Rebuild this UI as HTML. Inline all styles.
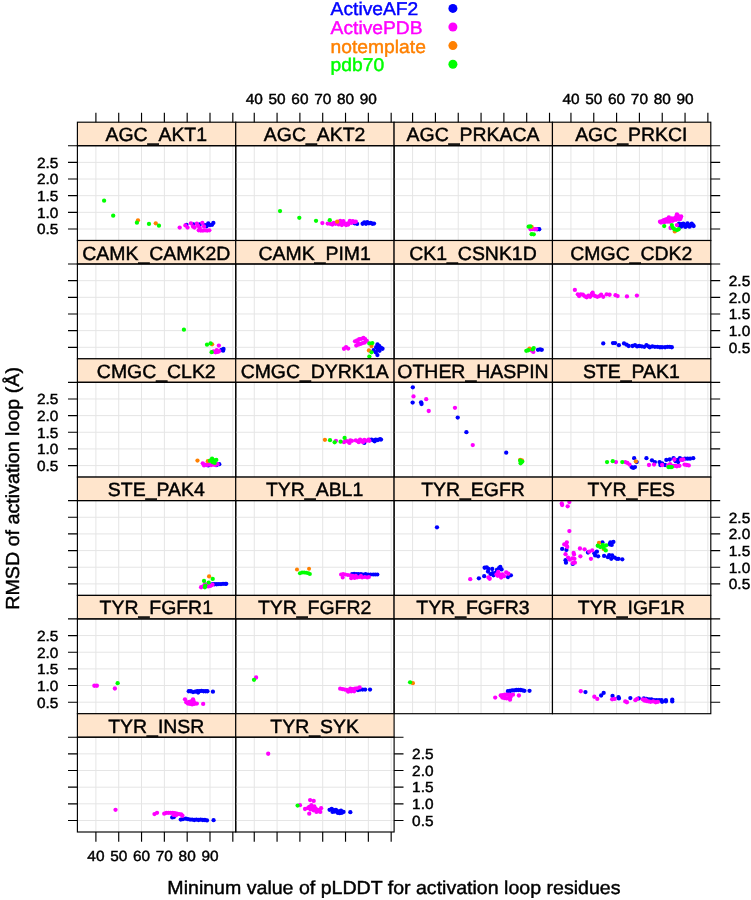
<!DOCTYPE html>
<html lang="en"><head><meta charset="utf-8"><title>RMSD of activation loop vs pLDDT</title>
<style>html,body{margin:0;padding:0;background:#fff}svg{display:block}text{font-family:"Liberation Sans", Arial, Helvetica, sans-serif;fill:#000;stroke:#000;stroke-width:0.45px;text-rendering:geometricPrecision}</style></head><body>
<svg width="751" height="900" viewBox="0 0 751 900">
<rect width="751" height="900" fill="#fff"/>
<g>
<rect x="77.4" y="122.2" width="158.35" height="23.5" fill="#ffe5cc"/>
<path d="M95.9 145.7V240.5M118.72 145.7V240.5M141.54 145.7V240.5M164.36 145.7V240.5M187.18 145.7V240.5M210 145.7V240.5M232.82 145.7V240.5M77.4 229H235.75M77.4 212.34H235.75M77.4 195.68H235.75M77.4 179.02H235.75M77.4 162.36H235.75" stroke="#e5e5e5" stroke-width="1" fill="none"/>
<g fill="#0000ff"><circle cx="186.46" cy="224.82" r="2.15"/><circle cx="193.44" cy="224.39" r="2.15"/><circle cx="199.8" cy="224.39" r="2.15"/><circle cx="205.09" cy="225.03" r="2.15"/><circle cx="206.57" cy="226.3" r="2.15"/><circle cx="208.26" cy="223.34" r="2.15"/><circle cx="209.96" cy="225.03" r="2.15"/><circle cx="212.08" cy="224.82" r="2.15"/><circle cx="213.35" cy="222.91" r="2.15"/></g>
<g fill="#ff00ff"><circle cx="179.68" cy="227.57" r="2.15"/><circle cx="185.4" cy="225.45" r="2.15"/><circle cx="187.52" cy="227.57" r="2.15"/><circle cx="190.9" cy="223.34" r="2.15"/><circle cx="193.02" cy="226.51" r="2.15"/><circle cx="194.5" cy="227.57" r="2.15"/><circle cx="196.83" cy="223.76" r="2.15"/><circle cx="198.1" cy="225.88" r="2.15"/><circle cx="199.8" cy="227.99" r="2.15"/><circle cx="202.34" cy="222.91" r="2.15"/><circle cx="198.74" cy="230.32" r="2.15"/><circle cx="200.85" cy="230.53" r="2.15"/><circle cx="202.97" cy="230.53" r="2.15"/><circle cx="205.09" cy="230.32" r="2.15"/><circle cx="207.21" cy="230.53" r="2.15"/><circle cx="209.32" cy="230.32" r="2.15"/><circle cx="204.03" cy="226.51" r="2.15"/></g>
<g fill="#ff8000"><circle cx="137.97" cy="220.37" r="2.15"/><circle cx="155.76" cy="223.34" r="2.15"/></g>
<g fill="#00ff00"><circle cx="104.1" cy="200.68" r="2.15"/><circle cx="113.2" cy="215.71" r="2.15"/><circle cx="136.92" cy="222.7" r="2.15"/><circle cx="148.98" cy="223.97" r="2.15"/><circle cx="158.93" cy="225.66" r="2.15"/></g>
<rect x="77.4" y="122.2" width="158.35" height="23.5" fill="none" stroke="#000" stroke-width="1.15"/>
<rect x="77.4" y="145.7" width="158.35" height="94.8" fill="none" stroke="#000" stroke-width="1.15"/>
<text transform="translate(156.27 141.25) scale(1 0.985)" font-size="19.45" text-anchor="middle">AGC_AKT1</text>
</g>
<g>
<rect x="235.75" y="122.2" width="158.35" height="23.5" fill="#ffe5cc"/>
<path d="M254.25 145.7V240.5M277.07 145.7V240.5M299.89 145.7V240.5M322.71 145.7V240.5M345.53 145.7V240.5M368.35 145.7V240.5M391.17 145.7V240.5M235.75 229H394.1M235.75 212.34H394.1M235.75 195.68H394.1M235.75 179.02H394.1M235.75 162.36H394.1" stroke="#e5e5e5" stroke-width="1" fill="none"/>
<g fill="#0000ff"><circle cx="354.56" cy="223.34" r="2.15"/><circle cx="357.1" cy="223.97" r="2.15"/><circle cx="362.61" cy="223.76" r="2.15"/><circle cx="364.3" cy="222.49" r="2.15"/><circle cx="365.99" cy="223.76" r="2.15"/><circle cx="367.26" cy="222.07" r="2.15"/><circle cx="368.96" cy="223.34" r="2.15"/><circle cx="370.65" cy="222.91" r="2.15"/><circle cx="372.35" cy="223.76" r="2.15"/><circle cx="374.04" cy="223.55" r="2.15"/></g>
<g fill="#ff00ff"><circle cx="322.38" cy="223.12" r="2.15"/><circle cx="327.67" cy="223.55" r="2.15"/><circle cx="330.21" cy="223.76" r="2.15"/><circle cx="332.33" cy="224.61" r="2.15"/><circle cx="333.81" cy="222.91" r="2.15"/><circle cx="335.51" cy="223.76" r="2.15"/><circle cx="338.68" cy="224.39" r="2.15"/><circle cx="340.17" cy="220.79" r="2.15"/><circle cx="341.86" cy="225.03" r="2.15"/><circle cx="343.34" cy="221.22" r="2.15"/><circle cx="344.4" cy="223.76" r="2.15"/><circle cx="346.09" cy="225.03" r="2.15"/><circle cx="347.79" cy="223.34" r="2.15"/><circle cx="349.9" cy="220.79" r="2.15"/><circle cx="351.39" cy="222.91" r="2.15"/><circle cx="352.87" cy="221.22" r="2.15"/><circle cx="354.56" cy="222.07" r="2.15"/><circle cx="355.83" cy="221.64" r="2.15"/><circle cx="341.22" cy="222.91" r="2.15"/><circle cx="348.21" cy="224.61" r="2.15"/></g>
<g fill="#ff8000"><circle cx="337.2" cy="221.64" r="2.15"/></g>
<g fill="#00ff00"><circle cx="280.04" cy="211.06" r="2.15"/><circle cx="299.3" cy="217.83" r="2.15"/><circle cx="316.03" cy="220.79" r="2.15"/><circle cx="329.79" cy="220.16" r="2.15"/></g>
<rect x="235.75" y="122.2" width="158.35" height="23.5" fill="none" stroke="#000" stroke-width="1.15"/>
<rect x="235.75" y="145.7" width="158.35" height="94.8" fill="none" stroke="#000" stroke-width="1.15"/>
<text transform="translate(314.62 141.25) scale(1 0.985)" font-size="19.45" text-anchor="middle">AGC_AKT2</text>
</g>
<g>
<rect x="394.1" y="122.2" width="158.35" height="23.5" fill="#ffe5cc"/>
<path d="M412.6 145.7V240.5M435.42 145.7V240.5M458.24 145.7V240.5M481.06 145.7V240.5M503.88 145.7V240.5M526.7 145.7V240.5M549.52 145.7V240.5M394.1 229H552.45M394.1 212.34H552.45M394.1 195.68H552.45M394.1 179.02H552.45M394.1 162.36H552.45" stroke="#e5e5e5" stroke-width="1" fill="none"/>
<g fill="#0000ff"><circle cx="537.12" cy="229.26" r="2.15"/><circle cx="539.24" cy="229.26" r="2.15"/></g>
<g fill="#ff00ff"><circle cx="530.56" cy="229.26" r="2.15"/><circle cx="532.68" cy="229.05" r="2.15"/><circle cx="534.79" cy="229.26" r="2.15"/><circle cx="536.27" cy="229.05" r="2.15"/></g>
<g fill="#ff8000"><circle cx="531.62" cy="226.93" r="2.15"/></g>
<g fill="#00ff00"><circle cx="528.65" cy="226.72" r="2.15"/><circle cx="530.35" cy="226.3" r="2.15"/><circle cx="531.62" cy="234.13" r="2.15"/><circle cx="533.73" cy="234.34" r="2.15"/></g>
<rect x="394.1" y="122.2" width="158.35" height="23.5" fill="none" stroke="#000" stroke-width="1.15"/>
<rect x="394.1" y="145.7" width="158.35" height="94.8" fill="none" stroke="#000" stroke-width="1.15"/>
<text transform="translate(472.98 141.25) scale(1 0.985)" font-size="19.45" text-anchor="middle">AGC_PRKACA</text>
</g>
<g>
<rect x="552.45" y="122.2" width="158.35" height="23.5" fill="#ffe5cc"/>
<path d="M570.95 145.7V240.5M593.77 145.7V240.5M616.59 145.7V240.5M639.41 145.7V240.5M662.23 145.7V240.5M685.05 145.7V240.5M707.87 145.7V240.5M552.45 229H710.8M552.45 212.34H710.8M552.45 195.68H710.8M552.45 179.02H710.8M552.45 162.36H710.8" stroke="#e5e5e5" stroke-width="1" fill="none"/>
<g fill="#0000ff"><circle cx="678.61" cy="225.03" r="2.15"/><circle cx="680.72" cy="225.45" r="2.15"/><circle cx="682.84" cy="225.03" r="2.15"/><circle cx="684.96" cy="225.88" r="2.15"/><circle cx="687.08" cy="225.03" r="2.15"/><circle cx="689.19" cy="225.45" r="2.15"/><circle cx="691.31" cy="225.03" r="2.15"/><circle cx="693" cy="225.03" r="2.15"/><circle cx="681.57" cy="224.18" r="2.15"/><circle cx="687.5" cy="224.18" r="2.15"/><circle cx="679.03" cy="223.76" r="2.15"/><circle cx="681.15" cy="226.72" r="2.15"/><circle cx="683.26" cy="223.55" r="2.15"/><circle cx="685.38" cy="226.93" r="2.15"/><circle cx="687.5" cy="223.34" r="2.15"/><circle cx="689.62" cy="226.72" r="2.15"/><circle cx="691.73" cy="223.76" r="2.15"/><circle cx="693.64" cy="226.09" r="2.15"/><circle cx="684.32" cy="224.61" r="2.15"/><circle cx="688.56" cy="226.09" r="2.15"/></g>
<g fill="#ff00ff"><circle cx="659.98" cy="221.64" r="2.15"/><circle cx="662.09" cy="221.22" r="2.15"/><circle cx="663.79" cy="220.16" r="2.15"/><circle cx="665.9" cy="219.52" r="2.15"/><circle cx="668.02" cy="218.68" r="2.15"/><circle cx="668.87" cy="217.41" r="2.15"/><circle cx="670.56" cy="220.16" r="2.15"/><circle cx="672.68" cy="219.1" r="2.15"/><circle cx="674.8" cy="218.04" r="2.15"/><circle cx="676.91" cy="214.44" r="2.15"/><circle cx="678.61" cy="216.56" r="2.15"/><circle cx="680.72" cy="217.41" r="2.15"/><circle cx="679.03" cy="219.1" r="2.15"/><circle cx="667.39" cy="221.64" r="2.15"/><circle cx="670.56" cy="227.99" r="2.15"/><circle cx="676.91" cy="225.03" r="2.15"/><circle cx="664.63" cy="222.07" r="2.15"/><circle cx="661.03" cy="222.49" r="2.15"/><circle cx="663.15" cy="221.85" r="2.15"/><circle cx="665.48" cy="221.01" r="2.15"/><circle cx="669.72" cy="219.31" r="2.15"/><circle cx="671.83" cy="218.47" r="2.15"/><circle cx="673.95" cy="219.74" r="2.15"/><circle cx="676.07" cy="216.98" r="2.15"/><circle cx="678.18" cy="218.25" r="2.15"/><circle cx="680.3" cy="219.1" r="2.15"/><circle cx="681.15" cy="216.35" r="2.15"/><circle cx="677.76" cy="215.5" r="2.15"/><circle cx="676.07" cy="219.74" r="2.15"/><circle cx="672.68" cy="220.79" r="2.15"/><circle cx="669.72" cy="221.64" r="2.15"/></g>
<g fill="#ff8000"><circle cx="674.8" cy="231.38" r="2.15"/></g>
<g fill="#00ff00"><circle cx="664.21" cy="226.09" r="2.15"/><circle cx="671.83" cy="225.03" r="2.15"/><circle cx="672.68" cy="227.57" r="2.15"/><circle cx="674.37" cy="229.26" r="2.15"/><circle cx="676.91" cy="230.11" r="2.15"/><circle cx="678.61" cy="229.26" r="2.15"/></g>
<rect x="552.45" y="122.2" width="158.35" height="23.5" fill="none" stroke="#000" stroke-width="1.15"/>
<rect x="552.45" y="145.7" width="158.35" height="94.8" fill="none" stroke="#000" stroke-width="1.15"/>
<text transform="translate(631.32 141.25) scale(1 0.985)" font-size="19.45" text-anchor="middle">AGC_PRKCI</text>
</g>
<g>
<rect x="77.4" y="240.5" width="158.35" height="23.5" fill="#ffe5cc"/>
<path d="M95.9 264V358.8M118.72 264V358.8M141.54 264V358.8M164.36 264V358.8M187.18 264V358.8M210 264V358.8M232.82 264V358.8M77.4 347.3H235.75M77.4 330.64H235.75M77.4 313.98H235.75M77.4 297.32H235.75M77.4 280.66H235.75" stroke="#e5e5e5" stroke-width="1" fill="none"/>
<g fill="#0000ff"><circle cx="221.39" cy="349.8" r="2.15"/><circle cx="223.51" cy="348.96" r="2.15"/><circle cx="223.09" cy="350.65" r="2.15"/></g>
<g fill="#ff00ff"><circle cx="218.85" cy="345.57" r="2.15"/><circle cx="213.56" cy="351.5" r="2.15"/><circle cx="215.68" cy="352.34" r="2.15"/><circle cx="217.79" cy="351.92" r="2.15"/><circle cx="219.27" cy="351.07" r="2.15"/><circle cx="216.73" cy="350.23" r="2.15"/></g>
<g fill="#ff8000"><circle cx="212.08" cy="344.3" r="2.15"/></g>
<g fill="#00ff00"><circle cx="183.92" cy="329.69" r="2.15"/><circle cx="206.99" cy="344.72" r="2.15"/><circle cx="210.59" cy="343.45" r="2.15"/><circle cx="211.65" cy="352.13" r="2.15"/></g>
<rect x="77.4" y="240.5" width="158.35" height="23.5" fill="none" stroke="#000" stroke-width="1.15"/>
<rect x="77.4" y="264" width="158.35" height="94.8" fill="none" stroke="#000" stroke-width="1.15"/>
<text transform="translate(156.27 259.55) scale(1 0.985)" font-size="19.45" text-anchor="middle">CAMK_CAMK2D</text>
</g>
<g>
<rect x="235.75" y="240.5" width="158.35" height="23.5" fill="#ffe5cc"/>
<path d="M254.25 264V358.8M277.07 264V358.8M299.89 264V358.8M322.71 264V358.8M345.53 264V358.8M368.35 264V358.8M391.17 264V358.8M235.75 347.3H394.1M235.75 330.64H394.1M235.75 313.98H394.1M235.75 297.32H394.1M235.75 280.66H394.1" stroke="#e5e5e5" stroke-width="1" fill="none"/>
<g fill="#0000ff"><circle cx="377.43" cy="344.51" r="2.15"/><circle cx="379.12" cy="345.99" r="2.15"/><circle cx="380.81" cy="347.69" r="2.15"/><circle cx="382.51" cy="348.75" r="2.15"/><circle cx="376.16" cy="347.26" r="2.15"/><circle cx="377.85" cy="349.8" r="2.15"/><circle cx="379.54" cy="350.86" r="2.15"/><circle cx="375.73" cy="352.34" r="2.15"/><circle cx="377.43" cy="355.1" r="2.15"/><circle cx="373.62" cy="350.23" r="2.15"/><circle cx="378.27" cy="348.11" r="2.15"/></g>
<g fill="#ff00ff"><circle cx="343.98" cy="348.75" r="2.15"/><circle cx="346.09" cy="347.26" r="2.15"/><circle cx="348.21" cy="348.53" r="2.15"/><circle cx="354.99" cy="341.34" r="2.15"/><circle cx="357.1" cy="340.28" r="2.15"/><circle cx="359.22" cy="339.22" r="2.15"/><circle cx="361.34" cy="338.79" r="2.15"/><circle cx="363.45" cy="337.95" r="2.15"/><circle cx="365.15" cy="339.22" r="2.15"/><circle cx="366.84" cy="340.91" r="2.15"/><circle cx="364.72" cy="342.61" r="2.15"/><circle cx="362.61" cy="343.03" r="2.15"/><circle cx="360.49" cy="343.88" r="2.15"/><circle cx="358.37" cy="344.72" r="2.15"/><circle cx="356.26" cy="345.57" r="2.15"/><circle cx="357.74" cy="342.18" r="2.15"/></g>
<g fill="#ff8000"><circle cx="371.5" cy="345.99" r="2.15"/><circle cx="368.96" cy="350.44" r="2.15"/></g>
<g fill="#00ff00"><circle cx="369.38" cy="343.45" r="2.15"/><circle cx="372.35" cy="343.03" r="2.15"/><circle cx="371.5" cy="352.34" r="2.15"/><circle cx="369.38" cy="356.58" r="2.15"/></g>
<rect x="235.75" y="240.5" width="158.35" height="23.5" fill="none" stroke="#000" stroke-width="1.15"/>
<rect x="235.75" y="264" width="158.35" height="94.8" fill="none" stroke="#000" stroke-width="1.15"/>
<text transform="translate(314.62 259.55) scale(1 0.985)" font-size="19.45" text-anchor="middle">CAMK_PIM1</text>
</g>
<g>
<rect x="394.1" y="240.5" width="158.35" height="23.5" fill="#ffe5cc"/>
<path d="M412.6 264V358.8M435.42 264V358.8M458.24 264V358.8M481.06 264V358.8M503.88 264V358.8M526.7 264V358.8M549.52 264V358.8M394.1 347.3H552.45M394.1 330.64H552.45M394.1 313.98H552.45M394.1 297.32H552.45M394.1 280.66H552.45" stroke="#e5e5e5" stroke-width="1" fill="none"/>
<g fill="#0000ff"><circle cx="537.97" cy="349.8" r="2.15"/><circle cx="540.09" cy="349.38" r="2.15"/><circle cx="541.78" cy="349.8" r="2.15"/></g>
<g fill="#ff00ff"><circle cx="533.31" cy="351.92" r="2.15"/><circle cx="531.19" cy="350.23" r="2.15"/></g>
<g fill="#ff8000"><circle cx="529.5" cy="348.75" r="2.15"/></g>
<g fill="#00ff00"><circle cx="526.32" cy="350.86" r="2.15"/><circle cx="528.23" cy="350.23" r="2.15"/><circle cx="533.73" cy="348.11" r="2.15"/><circle cx="532.68" cy="349.38" r="2.15"/></g>
<rect x="394.1" y="240.5" width="158.35" height="23.5" fill="none" stroke="#000" stroke-width="1.15"/>
<rect x="394.1" y="264" width="158.35" height="94.8" fill="none" stroke="#000" stroke-width="1.15"/>
<text transform="translate(472.98 259.55) scale(1 0.985)" font-size="19.45" text-anchor="middle">CK1_CSNK1D</text>
</g>
<g>
<rect x="552.45" y="240.5" width="158.35" height="23.5" fill="#ffe5cc"/>
<path d="M570.95 264V358.8M593.77 264V358.8M616.59 264V358.8M639.41 264V358.8M662.23 264V358.8M685.05 264V358.8M707.87 264V358.8M552.45 347.3H710.8M552.45 330.64H710.8M552.45 313.98H710.8M552.45 297.32H710.8M552.45 280.66H710.8" stroke="#e5e5e5" stroke-width="1" fill="none"/>
<g fill="#0000ff"><circle cx="603.24" cy="343.45" r="2.15"/><circle cx="612.97" cy="343.03" r="2.15"/><circle cx="615.09" cy="343.03" r="2.15"/><circle cx="618.9" cy="345.15" r="2.15"/><circle cx="623.98" cy="343.45" r="2.15"/><circle cx="626.52" cy="344.72" r="2.15"/><circle cx="628.64" cy="345.99" r="2.15"/><circle cx="632.45" cy="345.99" r="2.15"/><circle cx="634.99" cy="345.15" r="2.15"/><circle cx="637.11" cy="346.42" r="2.15"/><circle cx="639.23" cy="345.99" r="2.15"/><circle cx="641.77" cy="346.42" r="2.15"/><circle cx="644.31" cy="346.84" r="2.15"/><circle cx="646.43" cy="345.15" r="2.15"/><circle cx="648.54" cy="346.42" r="2.15"/><circle cx="649.81" cy="347.26" r="2.15"/><circle cx="652.35" cy="346.42" r="2.15"/><circle cx="654.89" cy="346.84" r="2.15"/><circle cx="657.44" cy="346.84" r="2.15"/><circle cx="659.98" cy="347.26" r="2.15"/><circle cx="662.09" cy="347.26" r="2.15"/><circle cx="665.06" cy="347.26" r="2.15"/><circle cx="667.6" cy="346.84" r="2.15"/><circle cx="669.72" cy="346.84" r="2.15"/><circle cx="671.83" cy="347.26" r="2.15"/></g>
<g fill="#ff00ff"><circle cx="574.87" cy="289.89" r="2.15"/><circle cx="577.83" cy="294.33" r="2.15"/><circle cx="579.1" cy="296.03" r="2.15"/><circle cx="580.79" cy="294.33" r="2.15"/><circle cx="582.91" cy="294.76" r="2.15"/><circle cx="585.03" cy="296.45" r="2.15"/><circle cx="586.72" cy="297.3" r="2.15"/><circle cx="588.42" cy="295.6" r="2.15"/><circle cx="590.11" cy="296.87" r="2.15"/><circle cx="591.8" cy="293.91" r="2.15"/><circle cx="593.5" cy="295.18" r="2.15"/><circle cx="595.19" cy="296.03" r="2.15"/><circle cx="597.31" cy="296.87" r="2.15"/><circle cx="599.42" cy="296.03" r="2.15"/><circle cx="601.12" cy="294.76" r="2.15"/><circle cx="603.24" cy="296.87" r="2.15"/><circle cx="606.62" cy="294.33" r="2.15"/><circle cx="609.59" cy="294.76" r="2.15"/><circle cx="615.52" cy="295.18" r="2.15"/><circle cx="617.63" cy="296.03" r="2.15"/><circle cx="626.95" cy="296.45" r="2.15"/><circle cx="636.9" cy="295.6" r="2.15"/><circle cx="592.65" cy="292.64" r="2.15"/></g>
<rect x="552.45" y="240.5" width="158.35" height="23.5" fill="none" stroke="#000" stroke-width="1.15"/>
<rect x="552.45" y="264" width="158.35" height="94.8" fill="none" stroke="#000" stroke-width="1.15"/>
<text transform="translate(631.32 259.55) scale(1 0.985)" font-size="19.45" text-anchor="middle">CMGC_CDK2</text>
</g>
<g>
<rect x="77.4" y="358.8" width="158.35" height="23.5" fill="#ffe5cc"/>
<path d="M95.9 382.3V477.1M118.72 382.3V477.1M141.54 382.3V477.1M164.36 382.3V477.1M187.18 382.3V477.1M210 382.3V477.1M232.82 382.3V477.1M77.4 465.6H235.75M77.4 448.94H235.75M77.4 432.28H235.75M77.4 415.62H235.75M77.4 398.96H235.75" stroke="#e5e5e5" stroke-width="1" fill="none"/>
<g fill="#0000ff"><circle cx="219.27" cy="464.15" r="2.15"/><circle cx="216.73" cy="464.99" r="2.15"/><circle cx="208.26" cy="465.42" r="2.15"/></g>
<g fill="#ff00ff"><circle cx="202.76" cy="463.3" r="2.15"/><circle cx="204.88" cy="464.57" r="2.15"/><circle cx="206.99" cy="464.99" r="2.15"/><circle cx="209.11" cy="464.57" r="2.15"/><circle cx="211.23" cy="464.99" r="2.15"/><circle cx="213.35" cy="464.57" r="2.15"/><circle cx="215.46" cy="464.99" r="2.15"/><circle cx="217.58" cy="464.15" r="2.15"/><circle cx="204.03" cy="465.42" r="2.15"/></g>
<g fill="#ff8000"><circle cx="197.47" cy="460.55" r="2.15"/><circle cx="207.84" cy="461.18" r="2.15"/></g>
<g fill="#00ff00"><circle cx="209.96" cy="460.76" r="2.15"/><circle cx="212.08" cy="458.64" r="2.15"/><circle cx="214.19" cy="460.34" r="2.15"/><circle cx="216.31" cy="459.91" r="2.15"/><circle cx="214.62" cy="462.88" r="2.15"/><circle cx="212.5" cy="462.03" r="2.15"/></g>
<rect x="77.4" y="358.8" width="158.35" height="23.5" fill="none" stroke="#000" stroke-width="1.15"/>
<rect x="77.4" y="382.3" width="158.35" height="94.8" fill="none" stroke="#000" stroke-width="1.15"/>
<text transform="translate(156.27 377.85) scale(1 0.985)" font-size="19.45" text-anchor="middle">CMGC_CLK2</text>
</g>
<g>
<rect x="235.75" y="358.8" width="158.35" height="23.5" fill="#ffe5cc"/>
<path d="M254.25 382.3V477.1M277.07 382.3V477.1M299.89 382.3V477.1M322.71 382.3V477.1M345.53 382.3V477.1M368.35 382.3V477.1M391.17 382.3V477.1M235.75 465.6H394.1M235.75 448.94H394.1M235.75 432.28H394.1M235.75 415.62H394.1M235.75 398.96H394.1" stroke="#e5e5e5" stroke-width="1" fill="none"/>
<g fill="#0000ff"><circle cx="364.3" cy="442.97" r="2.15"/><circle cx="369.38" cy="440.01" r="2.15"/><circle cx="371.5" cy="439.59" r="2.15"/><circle cx="373.62" cy="440.43" r="2.15"/><circle cx="375.73" cy="439.59" r="2.15"/><circle cx="377.85" cy="440.01" r="2.15"/><circle cx="379.97" cy="439.16" r="2.15"/><circle cx="381.03" cy="439.59" r="2.15"/><circle cx="374.68" cy="441.28" r="2.15"/></g>
<g fill="#ff00ff"><circle cx="335.93" cy="440.86" r="2.15"/><circle cx="343.98" cy="442.13" r="2.15"/><circle cx="346.09" cy="440.86" r="2.15"/><circle cx="348.21" cy="441.7" r="2.15"/><circle cx="350.33" cy="440.43" r="2.15"/><circle cx="349.48" cy="442.97" r="2.15"/><circle cx="352.02" cy="440.86" r="2.15"/><circle cx="355.83" cy="440.43" r="2.15"/><circle cx="357.95" cy="441.28" r="2.15"/><circle cx="360.07" cy="439.59" r="2.15"/><circle cx="362.18" cy="440.86" r="2.15"/><circle cx="364.3" cy="440.01" r="2.15"/><circle cx="366.42" cy="440.86" r="2.15"/><circle cx="368.54" cy="439.59" r="2.15"/><circle cx="369.38" cy="440.86" r="2.15"/><circle cx="358.8" cy="442.13" r="2.15"/><circle cx="363.03" cy="442.13" r="2.15"/></g>
<g fill="#ff8000"><circle cx="324.92" cy="439.8" r="2.15"/></g>
<g fill="#00ff00"><circle cx="330" cy="440.22" r="2.15"/><circle cx="334.66" cy="442.34" r="2.15"/><circle cx="340.59" cy="441.7" r="2.15"/><circle cx="344.61" cy="437.89" r="2.15"/></g>
<rect x="235.75" y="358.8" width="158.35" height="23.5" fill="none" stroke="#000" stroke-width="1.15"/>
<rect x="235.75" y="382.3" width="158.35" height="94.8" fill="none" stroke="#000" stroke-width="1.15"/>
<text transform="translate(314.62 377.85) scale(1 0.985)" font-size="19.45" text-anchor="middle">CMGC_DYRK1A</text>
</g>
<g>
<rect x="394.1" y="358.8" width="158.35" height="23.5" fill="#ffe5cc"/>
<path d="M412.6 382.3V477.1M435.42 382.3V477.1M458.24 382.3V477.1M481.06 382.3V477.1M503.88 382.3V477.1M526.7 382.3V477.1M549.52 382.3V477.1M394.1 465.6H552.45M394.1 448.94H552.45M394.1 432.28H552.45M394.1 415.62H552.45M394.1 398.96H552.45" stroke="#e5e5e5" stroke-width="1" fill="none"/>
<g fill="#0000ff"><circle cx="412.84" cy="387.29" r="2.15"/><circle cx="412.63" cy="402.54" r="2.15"/><circle cx="421.1" cy="402.32" r="2.15"/><circle cx="421.52" cy="404.02" r="2.15"/><circle cx="457.73" cy="417.57" r="2.15"/><circle cx="466.41" cy="432.18" r="2.15"/><circle cx="506.21" cy="452.71" r="2.15"/></g>
<g fill="#ff00ff"><circle cx="413.48" cy="396.4" r="2.15"/><circle cx="426.18" cy="399.15" r="2.15"/><circle cx="428.72" cy="411.01" r="2.15"/><circle cx="454.97" cy="407.83" r="2.15"/><circle cx="472.76" cy="445.09" r="2.15"/></g>
<g fill="#ff8000"><circle cx="521.88" cy="460.34" r="2.15"/><circle cx="520.18" cy="459.91" r="2.15"/></g>
<g fill="#00ff00"><circle cx="520.18" cy="460.76" r="2.15"/><circle cx="521.45" cy="462.03" r="2.15"/><circle cx="520.61" cy="463.3" r="2.15"/><circle cx="522.3" cy="461.61" r="2.15"/></g>
<rect x="394.1" y="358.8" width="158.35" height="23.5" fill="none" stroke="#000" stroke-width="1.15"/>
<rect x="394.1" y="382.3" width="158.35" height="94.8" fill="none" stroke="#000" stroke-width="1.15"/>
<text transform="translate(472.98 377.85) scale(1 0.985)" font-size="19.45" text-anchor="middle">OTHER_HASPIN</text>
</g>
<g>
<rect x="552.45" y="358.8" width="158.35" height="23.5" fill="#ffe5cc"/>
<path d="M570.95 382.3V477.1M593.77 382.3V477.1M616.59 382.3V477.1M639.41 382.3V477.1M662.23 382.3V477.1M685.05 382.3V477.1M707.87 382.3V477.1M552.45 465.6H710.8M552.45 448.94H710.8M552.45 432.28H710.8M552.45 415.62H710.8M552.45 398.96H710.8" stroke="#e5e5e5" stroke-width="1" fill="none"/>
<g fill="#0000ff"><circle cx="634.15" cy="458.22" r="2.15"/><circle cx="636.69" cy="462.03" r="2.15"/><circle cx="631.61" cy="467.11" r="2.15"/><circle cx="634.99" cy="467.11" r="2.15"/><circle cx="633.3" cy="467.96" r="2.15"/><circle cx="646.43" cy="458.22" r="2.15"/><circle cx="651.93" cy="460.34" r="2.15"/><circle cx="654.89" cy="462.03" r="2.15"/><circle cx="659.55" cy="462.03" r="2.15"/><circle cx="660.4" cy="464.99" r="2.15"/><circle cx="662.09" cy="463.3" r="2.15"/><circle cx="666.33" cy="459.91" r="2.15"/><circle cx="669.72" cy="459.49" r="2.15"/><circle cx="673.53" cy="458.22" r="2.15"/><circle cx="675.64" cy="461.18" r="2.15"/><circle cx="677.76" cy="459.91" r="2.15"/><circle cx="679.88" cy="458.22" r="2.15"/><circle cx="682.42" cy="459.49" r="2.15"/><circle cx="684.96" cy="458.64" r="2.15"/><circle cx="687.5" cy="458.64" r="2.15"/><circle cx="690.04" cy="458.64" r="2.15"/><circle cx="693.22" cy="458.22" r="2.15"/><circle cx="665.06" cy="464.99" r="2.15"/><circle cx="678.18" cy="462.03" r="2.15"/></g>
<g fill="#ff00ff"><circle cx="615.94" cy="462.03" r="2.15"/><circle cx="625.25" cy="462.03" r="2.15"/><circle cx="627.37" cy="462.88" r="2.15"/><circle cx="629.49" cy="464.57" r="2.15"/><circle cx="648.97" cy="464.99" r="2.15"/><circle cx="654.05" cy="464.57" r="2.15"/><circle cx="662.09" cy="464.99" r="2.15"/><circle cx="668.02" cy="465.42" r="2.15"/><circle cx="670.14" cy="464.15" r="2.15"/><circle cx="672.68" cy="465.84" r="2.15"/><circle cx="674.8" cy="465.84" r="2.15"/><circle cx="676.91" cy="466.26" r="2.15"/><circle cx="679.45" cy="465.84" r="2.15"/><circle cx="674.37" cy="459.49" r="2.15"/><circle cx="681.15" cy="459.91" r="2.15"/><circle cx="683.26" cy="459.49" r="2.15"/><circle cx="684.54" cy="464.57" r="2.15"/><circle cx="686.65" cy="464.99" r="2.15"/><circle cx="688.77" cy="465.42" r="2.15"/></g>
<g fill="#ff8000"><circle cx="635.84" cy="461.39" r="2.15"/></g>
<g fill="#00ff00"><circle cx="607.05" cy="462.03" r="2.15"/><circle cx="612.76" cy="461.18" r="2.15"/><circle cx="622.29" cy="462.03" r="2.15"/><circle cx="668.44" cy="467.11" r="2.15"/><circle cx="670.14" cy="467.11" r="2.15"/><circle cx="671.83" cy="467.11" r="2.15"/></g>
<rect x="552.45" y="358.8" width="158.35" height="23.5" fill="none" stroke="#000" stroke-width="1.15"/>
<rect x="552.45" y="382.3" width="158.35" height="94.8" fill="none" stroke="#000" stroke-width="1.15"/>
<text transform="translate(631.32 377.85) scale(1 0.985)" font-size="19.45" text-anchor="middle">STE_PAK1</text>
</g>
<g>
<rect x="77.4" y="477.1" width="158.35" height="23.5" fill="#ffe5cc"/>
<path d="M95.9 500.6V595.4M118.72 500.6V595.4M141.54 500.6V595.4M164.36 500.6V595.4M187.18 500.6V595.4M210 500.6V595.4M232.82 500.6V595.4M77.4 583.9H235.75M77.4 567.24H235.75M77.4 550.58H235.75M77.4 533.92H235.75M77.4 517.26H235.75" stroke="#e5e5e5" stroke-width="1" fill="none"/>
<g fill="#0000ff"><circle cx="212.5" cy="584.26" r="2.15"/><circle cx="214.62" cy="584.26" r="2.15"/><circle cx="216.73" cy="584.26" r="2.15"/><circle cx="218.85" cy="584.05" r="2.15"/><circle cx="220.97" cy="584.05" r="2.15"/><circle cx="223.09" cy="583.84" r="2.15"/><circle cx="225.2" cy="583.84" r="2.15"/><circle cx="226.26" cy="583.84" r="2.15"/><circle cx="210.81" cy="585.11" r="2.15"/></g>
<g fill="#ff00ff"><circle cx="201.07" cy="587.23" r="2.15"/><circle cx="203.18" cy="586.38" r="2.15"/><circle cx="206.15" cy="585.11" r="2.15"/><circle cx="208.26" cy="586.38" r="2.15"/><circle cx="210.38" cy="585.96" r="2.15"/><circle cx="212.5" cy="584.69" r="2.15"/><circle cx="204.88" cy="584.26" r="2.15"/></g>
<g fill="#ff8000"><circle cx="209.11" cy="576.43" r="2.15"/></g>
<g fill="#00ff00"><circle cx="204.03" cy="580.88" r="2.15"/><circle cx="208.69" cy="582.57" r="2.15"/><circle cx="212.71" cy="578.97" r="2.15"/><circle cx="204.88" cy="587.23" r="2.15"/><circle cx="205.3" cy="585.53" r="2.15"/></g>
<rect x="77.4" y="477.1" width="158.35" height="23.5" fill="none" stroke="#000" stroke-width="1.15"/>
<rect x="77.4" y="500.6" width="158.35" height="94.8" fill="none" stroke="#000" stroke-width="1.15"/>
<text transform="translate(156.27 496.15) scale(1 0.985)" font-size="19.45" text-anchor="middle">STE_PAK4</text>
</g>
<g>
<rect x="235.75" y="477.1" width="158.35" height="23.5" fill="#ffe5cc"/>
<path d="M254.25 500.6V595.4M277.07 500.6V595.4M299.89 500.6V595.4M322.71 500.6V595.4M345.53 500.6V595.4M368.35 500.6V595.4M391.17 500.6V595.4M235.75 583.9H394.1M235.75 567.24H394.1M235.75 550.58H394.1M235.75 533.92H394.1M235.75 517.26H394.1" stroke="#e5e5e5" stroke-width="1" fill="none"/>
<g fill="#0000ff"><circle cx="352.02" cy="574.1" r="2.0"/><circle cx="354.14" cy="573.68" r="2.0"/><circle cx="356.26" cy="574.1" r="2.0"/><circle cx="358.37" cy="574.1" r="2.0"/><circle cx="360.91" cy="574.1" r="2.0"/><circle cx="363.03" cy="574.52" r="2.0"/><circle cx="365.57" cy="574.1" r="2.0"/><circle cx="368.11" cy="574.52" r="2.0"/><circle cx="370.65" cy="574.52" r="2.0"/><circle cx="373.19" cy="574.52" r="2.0"/><circle cx="375.31" cy="574.52" r="2.0"/><circle cx="377.43" cy="574.52" r="2.0"/></g>
<g fill="#ff00ff"><circle cx="341.01" cy="574.52" r="2.0"/><circle cx="343.13" cy="574.1" r="2.0"/><circle cx="345.25" cy="574.52" r="2.0"/><circle cx="342.71" cy="577.49" r="2.0"/><circle cx="347.79" cy="574.95" r="2.0"/><circle cx="350.33" cy="575.37" r="2.0"/><circle cx="352.87" cy="575.79" r="2.0"/><circle cx="351.17" cy="578.34" r="2.0"/><circle cx="354.56" cy="577.91" r="2.0"/><circle cx="357.1" cy="577.49" r="2.0"/><circle cx="359.64" cy="577.07" r="2.0"/><circle cx="362.18" cy="577.49" r="2.0"/><circle cx="364.72" cy="577.07" r="2.0"/><circle cx="367.26" cy="577.49" r="2.0"/><circle cx="368.96" cy="577.07" r="2.0"/><circle cx="355.83" cy="575.79" r="2.0"/><circle cx="360.91" cy="575.79" r="2.0"/></g>
<g fill="#ff8000"><circle cx="296.97" cy="569.44" r="2.0"/><circle cx="309.04" cy="568.81" r="2.0"/></g>
<g fill="#00ff00"><circle cx="299.94" cy="573.25" r="2.0"/><circle cx="302.06" cy="572.41" r="2.0"/><circle cx="304.17" cy="572.41" r="2.0"/><circle cx="306.29" cy="572.83" r="2.0"/><circle cx="308.41" cy="573.25" r="2.0"/><circle cx="309.89" cy="574.1" r="2.0"/></g>
<rect x="235.75" y="477.1" width="158.35" height="23.5" fill="none" stroke="#000" stroke-width="1.15"/>
<rect x="235.75" y="500.6" width="158.35" height="94.8" fill="none" stroke="#000" stroke-width="1.15"/>
<text transform="translate(314.62 496.15) scale(1 0.985)" font-size="19.45" text-anchor="middle">TYR_ABL1</text>
</g>
<g>
<rect x="394.1" y="477.1" width="158.35" height="23.5" fill="#ffe5cc"/>
<path d="M412.6 500.6V595.4M435.42 500.6V595.4M458.24 500.6V595.4M481.06 500.6V595.4M503.88 500.6V595.4M526.7 500.6V595.4M549.52 500.6V595.4M394.1 583.9H552.45M394.1 567.24H552.45M394.1 550.58H552.45M394.1 533.92H552.45M394.1 517.26H552.45" stroke="#e5e5e5" stroke-width="1" fill="none"/>
<g fill="#0000ff"><circle cx="436.98" cy="527.31" r="2.15"/><circle cx="478.9" cy="578.34" r="2.15"/><circle cx="484.19" cy="576.22" r="2.15"/><circle cx="484.62" cy="567.75" r="2.15"/><circle cx="486.73" cy="567.33" r="2.15"/><circle cx="488.43" cy="569.02" r="2.15"/><circle cx="488" cy="571.56" r="2.15"/><circle cx="492.24" cy="569.02" r="2.15"/><circle cx="492.66" cy="573.25" r="2.15"/><circle cx="493.51" cy="575.37" r="2.15"/><circle cx="496.89" cy="569.87" r="2.15"/><circle cx="499.01" cy="568.17" r="2.15"/><circle cx="500.28" cy="566.9" r="2.15"/><circle cx="501.55" cy="569.44" r="2.15"/><circle cx="510.87" cy="575.37" r="2.15"/><circle cx="507.9" cy="577.07" r="2.15"/><circle cx="495.62" cy="572.83" r="2.15"/><circle cx="490.54" cy="574.1" r="2.15"/></g>
<g fill="#ff00ff"><circle cx="470.22" cy="579.18" r="2.15"/><circle cx="488.43" cy="577.49" r="2.15"/><circle cx="489.7" cy="578.76" r="2.15"/><circle cx="496.47" cy="574.52" r="2.15"/><circle cx="498.17" cy="571.98" r="2.15"/><circle cx="499.01" cy="574.1" r="2.15"/><circle cx="500.71" cy="575.79" r="2.15"/><circle cx="502.4" cy="574.52" r="2.15"/><circle cx="501.13" cy="577.49" r="2.15"/><circle cx="506.21" cy="572.41" r="2.15"/><circle cx="508.33" cy="573.68" r="2.15"/><circle cx="504.09" cy="576.22" r="2.15"/><circle cx="497.74" cy="575.79" r="2.15"/></g>
<rect x="394.1" y="477.1" width="158.35" height="23.5" fill="none" stroke="#000" stroke-width="1.15"/>
<rect x="394.1" y="500.6" width="158.35" height="94.8" fill="none" stroke="#000" stroke-width="1.15"/>
<text transform="translate(472.98 496.15) scale(1 0.985)" font-size="19.45" text-anchor="middle">TYR_EGFR</text>
</g>
<g>
<rect x="552.45" y="477.1" width="158.35" height="23.5" fill="#ffe5cc"/>
<path d="M570.95 500.6V595.4M593.77 500.6V595.4M616.59 500.6V595.4M639.41 500.6V595.4M662.23 500.6V595.4M685.05 500.6V595.4M707.87 500.6V595.4M552.45 583.9H710.8M552.45 567.24H710.8M552.45 550.58H710.8M552.45 533.92H710.8M552.45 517.26H710.8" stroke="#e5e5e5" stroke-width="1" fill="none"/>
<g fill="#0000ff"><circle cx="562.16" cy="548.91" r="2.15"/><circle cx="566.4" cy="549.97" r="2.15"/><circle cx="565.55" cy="560.13" r="2.15"/><circle cx="565.97" cy="562.67" r="2.15"/><circle cx="572.75" cy="563.94" r="2.15"/><circle cx="602.39" cy="542.34" r="2.15"/><circle cx="610.43" cy="542.34" r="2.15"/><circle cx="613.4" cy="541.92" r="2.15"/><circle cx="611.7" cy="544.88" r="2.15"/><circle cx="609.59" cy="544.46" r="2.15"/><circle cx="587.99" cy="552.51" r="2.15"/><circle cx="594.34" cy="553.35" r="2.15"/><circle cx="596.88" cy="551.66" r="2.15"/><circle cx="595.19" cy="555.47" r="2.15"/><circle cx="598.15" cy="556.32" r="2.15"/><circle cx="604.08" cy="555.89" r="2.15"/><circle cx="607.89" cy="557.16" r="2.15"/><circle cx="609.16" cy="555.05" r="2.15"/><circle cx="612.13" cy="555.47" r="2.15"/><circle cx="611.28" cy="558.86" r="2.15"/><circle cx="614.67" cy="557.59" r="2.15"/><circle cx="616.79" cy="558.86" r="2.15"/><circle cx="618.48" cy="558.86" r="2.15"/><circle cx="622.29" cy="559.28" r="2.15"/></g>
<g fill="#ff00ff"><circle cx="561.74" cy="503.39" r="2.15"/><circle cx="569.36" cy="502.12" r="2.15"/><circle cx="562.16" cy="505.08" r="2.15"/><circle cx="567.67" cy="506.35" r="2.15"/><circle cx="569.36" cy="531.12" r="2.15"/><circle cx="566.82" cy="542.34" r="2.15"/><circle cx="564.28" cy="544.46" r="2.15"/><circle cx="566.4" cy="545.31" r="2.15"/><circle cx="567.24" cy="547" r="2.15"/><circle cx="565.55" cy="554.2" r="2.15"/><circle cx="568.09" cy="557.59" r="2.15"/><circle cx="569.78" cy="559.7" r="2.15"/><circle cx="572.32" cy="558.43" r="2.15"/><circle cx="573.6" cy="552.93" r="2.15"/><circle cx="574.02" cy="554.62" r="2.15"/><circle cx="574.87" cy="562.67" r="2.15"/><circle cx="572.75" cy="563.09" r="2.15"/><circle cx="579.95" cy="548.48" r="2.15"/><circle cx="584.6" cy="549.33" r="2.15"/><circle cx="580.37" cy="556.32" r="2.15"/><circle cx="589.26" cy="551.66" r="2.15"/><circle cx="592.23" cy="550.39" r="2.15"/><circle cx="590.96" cy="558.86" r="2.15"/><circle cx="574.44" cy="558.86" r="2.15"/></g>
<g fill="#ff8000"><circle cx="599" cy="542.98" r="2.15"/><circle cx="603.66" cy="549.12" r="2.15"/></g>
<g fill="#00ff00"><circle cx="597.73" cy="545.73" r="2.15"/><circle cx="600.27" cy="547" r="2.15"/><circle cx="602.81" cy="544.88" r="2.15"/><circle cx="606.2" cy="545.31" r="2.15"/><circle cx="603.66" cy="547.85" r="2.15"/><circle cx="605.78" cy="550.39" r="2.15"/></g>
<rect x="552.45" y="477.1" width="158.35" height="23.5" fill="none" stroke="#000" stroke-width="1.15"/>
<rect x="552.45" y="500.6" width="158.35" height="94.8" fill="none" stroke="#000" stroke-width="1.15"/>
<text transform="translate(631.32 496.15) scale(1 0.985)" font-size="19.45" text-anchor="middle">TYR_FES</text>
</g>
<g>
<rect x="77.4" y="595.4" width="158.35" height="23.5" fill="#ffe5cc"/>
<path d="M95.9 618.9V713.7M118.72 618.9V713.7M141.54 618.9V713.7M164.36 618.9V713.7M187.18 618.9V713.7M210 618.9V713.7M232.82 618.9V713.7M77.4 702.2H235.75M77.4 685.54H235.75M77.4 668.88H235.75M77.4 652.22H235.75M77.4 635.56H235.75" stroke="#e5e5e5" stroke-width="1" fill="none"/>
<g fill="#0000ff"><circle cx="188.79" cy="691.25" r="2.15"/><circle cx="190.9" cy="691.25" r="2.15"/><circle cx="193.02" cy="692.1" r="2.15"/><circle cx="195.14" cy="691.68" r="2.15"/><circle cx="197.26" cy="691.25" r="2.15"/><circle cx="199.37" cy="691.25" r="2.15"/><circle cx="201.49" cy="690.83" r="2.15"/><circle cx="203.61" cy="691.25" r="2.15"/><circle cx="205.72" cy="691.25" r="2.15"/><circle cx="207.42" cy="691.25" r="2.15"/><circle cx="212.92" cy="691.68" r="2.15"/><circle cx="198.1" cy="692.52" r="2.15"/></g>
<g fill="#ff00ff"><circle cx="94.36" cy="685.75" r="2.15"/><circle cx="96.9" cy="685.75" r="2.15"/><circle cx="114.9" cy="688.5" r="2.15"/><circle cx="184.98" cy="699.3" r="2.15"/><circle cx="186.25" cy="702.26" r="2.15"/><circle cx="187.94" cy="703.53" r="2.15"/><circle cx="190.06" cy="703.96" r="2.15"/><circle cx="192.17" cy="704.38" r="2.15"/><circle cx="194.29" cy="703.96" r="2.15"/><circle cx="196.83" cy="703.53" r="2.15"/><circle cx="193.02" cy="699.3" r="2.15"/><circle cx="191.33" cy="701.42" r="2.15"/><circle cx="203.18" cy="703.96" r="2.15"/><circle cx="189.21" cy="701.84" r="2.15"/><circle cx="193.87" cy="701.84" r="2.15"/></g>
<g fill="#00ff00"><circle cx="117.65" cy="683.21" r="2.15"/></g>
<rect x="77.4" y="595.4" width="158.35" height="23.5" fill="none" stroke="#000" stroke-width="1.15"/>
<rect x="77.4" y="618.9" width="158.35" height="94.8" fill="none" stroke="#000" stroke-width="1.15"/>
<text transform="translate(156.27 614.45) scale(1 0.985)" font-size="19.45" text-anchor="middle">TYR_FGFR1</text>
</g>
<g>
<rect x="235.75" y="595.4" width="158.35" height="23.5" fill="#ffe5cc"/>
<path d="M254.25 618.9V713.7M277.07 618.9V713.7M299.89 618.9V713.7M322.71 618.9V713.7M345.53 618.9V713.7M368.35 618.9V713.7M391.17 618.9V713.7M235.75 702.2H394.1M235.75 685.54H394.1M235.75 668.88H394.1M235.75 652.22H394.1M235.75 635.56H394.1" stroke="#e5e5e5" stroke-width="1" fill="none"/>
<g fill="#0000ff"><circle cx="357.95" cy="689.98" r="2.15"/><circle cx="360.07" cy="689.56" r="2.15"/><circle cx="362.61" cy="689.56" r="2.15"/><circle cx="365.15" cy="689.56" r="2.15"/><circle cx="370.02" cy="689.56" r="2.15"/></g>
<g fill="#ff00ff"><circle cx="256.11" cy="677.49" r="2.15"/><circle cx="340.17" cy="688.71" r="2.15"/><circle cx="342.71" cy="689.14" r="2.15"/><circle cx="344.82" cy="689.56" r="2.15"/><circle cx="346.94" cy="689.98" r="2.15"/><circle cx="349.06" cy="690.83" r="2.15"/><circle cx="351.17" cy="691.25" r="2.15"/><circle cx="353.29" cy="690.41" r="2.15"/><circle cx="350.33" cy="688.71" r="2.15"/><circle cx="352.44" cy="689.14" r="2.15"/><circle cx="354.99" cy="688.71" r="2.15"/><circle cx="357.1" cy="688.29" r="2.15"/><circle cx="359.64" cy="687.44" r="2.15"/><circle cx="348.21" cy="691.68" r="2.15"/><circle cx="354.14" cy="691.25" r="2.15"/></g>
<g fill="#00ff00"><circle cx="254" cy="679.82" r="2.15"/></g>
<rect x="235.75" y="595.4" width="158.35" height="23.5" fill="none" stroke="#000" stroke-width="1.15"/>
<rect x="235.75" y="618.9" width="158.35" height="94.8" fill="none" stroke="#000" stroke-width="1.15"/>
<text transform="translate(314.62 614.45) scale(1 0.985)" font-size="19.45" text-anchor="middle">TYR_FGFR2</text>
</g>
<g>
<rect x="394.1" y="595.4" width="158.35" height="23.5" fill="#ffe5cc"/>
<path d="M412.6 618.9V713.7M435.42 618.9V713.7M458.24 618.9V713.7M481.06 618.9V713.7M503.88 618.9V713.7M526.7 618.9V713.7M549.52 618.9V713.7M394.1 702.2H552.45M394.1 685.54H552.45M394.1 668.88H552.45M394.1 652.22H552.45M394.1 635.56H552.45" stroke="#e5e5e5" stroke-width="1" fill="none"/>
<g fill="#0000ff"><circle cx="507.9" cy="691.25" r="2.15"/><circle cx="510.02" cy="690.83" r="2.15"/><circle cx="512.14" cy="690.41" r="2.15"/><circle cx="514.26" cy="690.41" r="2.15"/><circle cx="516.37" cy="689.98" r="2.15"/><circle cx="518.49" cy="689.98" r="2.15"/><circle cx="520.61" cy="689.98" r="2.15"/><circle cx="522.72" cy="690.41" r="2.15"/><circle cx="524.42" cy="690.83" r="2.15"/><circle cx="529.5" cy="690.83" r="2.15"/><circle cx="509.17" cy="692.1" r="2.15"/></g>
<g fill="#ff00ff"><circle cx="495.2" cy="697.61" r="2.15"/><circle cx="500.71" cy="695.49" r="2.15"/><circle cx="502.82" cy="695.07" r="2.15"/><circle cx="504.94" cy="694.64" r="2.15"/><circle cx="507.06" cy="694.64" r="2.15"/><circle cx="509.17" cy="694.64" r="2.15"/><circle cx="511.29" cy="695.07" r="2.15"/><circle cx="512.99" cy="694.64" r="2.15"/><circle cx="502.4" cy="697.61" r="2.15"/><circle cx="504.52" cy="698.03" r="2.15"/><circle cx="506.63" cy="698.45" r="2.15"/><circle cx="508.75" cy="698.03" r="2.15"/><circle cx="510.44" cy="697.18" r="2.15"/><circle cx="510.02" cy="699.72" r="2.15"/><circle cx="518.91" cy="695.49" r="2.15"/><circle cx="504.09" cy="696.76" r="2.15"/></g>
<g fill="#ff8000"><circle cx="412.84" cy="683.21" r="2.15"/></g>
<g fill="#00ff00"><circle cx="410.09" cy="682.36" r="2.15"/></g>
<rect x="394.1" y="595.4" width="158.35" height="23.5" fill="none" stroke="#000" stroke-width="1.15"/>
<rect x="394.1" y="618.9" width="158.35" height="94.8" fill="none" stroke="#000" stroke-width="1.15"/>
<text transform="translate(472.98 614.45) scale(1 0.985)" font-size="19.45" text-anchor="middle">TYR_FGFR3</text>
</g>
<g>
<rect x="552.45" y="595.4" width="158.35" height="23.5" fill="#ffe5cc"/>
<path d="M570.95 618.9V713.7M593.77 618.9V713.7M616.59 618.9V713.7M639.41 618.9V713.7M662.23 618.9V713.7M685.05 618.9V713.7M707.87 618.9V713.7M552.45 702.2H710.8M552.45 685.54H710.8M552.45 668.88H710.8M552.45 652.22H710.8M552.45 635.56H710.8" stroke="#e5e5e5" stroke-width="1" fill="none"/>
<g fill="#0000ff"><circle cx="585.45" cy="692.1" r="2.15"/><circle cx="601.12" cy="695.49" r="2.15"/><circle cx="603.66" cy="692.95" r="2.15"/><circle cx="612.55" cy="695.91" r="2.15"/><circle cx="618.48" cy="697.18" r="2.15"/><circle cx="618.9" cy="698.45" r="2.15"/><circle cx="630.34" cy="698.03" r="2.15"/><circle cx="638.8" cy="698.45" r="2.15"/><circle cx="643.89" cy="698.45" r="2.15"/><circle cx="646.43" cy="698.88" r="2.15"/><circle cx="648.97" cy="699.3" r="2.15"/><circle cx="651.51" cy="699.3" r="2.15"/><circle cx="654.05" cy="700.15" r="2.15"/><circle cx="656.59" cy="700.15" r="2.15"/><circle cx="659.13" cy="700.15" r="2.15"/><circle cx="661.67" cy="700.15" r="2.15"/><circle cx="662.09" cy="701.84" r="2.15"/><circle cx="665.9" cy="700.15" r="2.15"/><circle cx="665.9" cy="701.42" r="2.15"/><circle cx="672.26" cy="699.72" r="2.15"/><circle cx="672.26" cy="701.42" r="2.15"/></g>
<g fill="#ff00ff"><circle cx="580.79" cy="691.25" r="2.15"/><circle cx="594.34" cy="696.76" r="2.15"/><circle cx="597.31" cy="698.88" r="2.15"/><circle cx="612.13" cy="699.3" r="2.15"/><circle cx="614.67" cy="698.88" r="2.15"/><circle cx="625.25" cy="701.42" r="2.15"/><circle cx="626.95" cy="702.26" r="2.15"/><circle cx="635.42" cy="700.15" r="2.15"/><circle cx="637.11" cy="698.88" r="2.15"/><circle cx="642.62" cy="699.3" r="2.15"/><circle cx="644.31" cy="700.57" r="2.15"/><circle cx="646.43" cy="700.99" r="2.15"/><circle cx="648.54" cy="701.42" r="2.15"/><circle cx="650.66" cy="701.84" r="2.15"/><circle cx="653.2" cy="701.42" r="2.15"/><circle cx="655.74" cy="702.26" r="2.15"/><circle cx="657.86" cy="701.84" r="2.15"/><circle cx="645.58" cy="699.72" r="2.15"/></g>
<rect x="552.45" y="595.4" width="158.35" height="23.5" fill="none" stroke="#000" stroke-width="1.15"/>
<rect x="552.45" y="618.9" width="158.35" height="94.8" fill="none" stroke="#000" stroke-width="1.15"/>
<text transform="translate(631.32 614.45) scale(1 0.985)" font-size="19.45" text-anchor="middle">TYR_IGF1R</text>
</g>
<g>
<rect x="77.4" y="713.7" width="158.35" height="23.5" fill="#ffe5cc"/>
<path d="M95.9 737.2V832M118.72 737.2V832M141.54 737.2V832M164.36 737.2V832M187.18 737.2V832M210 737.2V832M232.82 737.2V832M77.4 820.5H235.75M77.4 803.84H235.75M77.4 787.18H235.75M77.4 770.52H235.75M77.4 753.86H235.75" stroke="#e5e5e5" stroke-width="1" fill="none"/>
<g fill="#0000ff"><circle cx="172.27" cy="817.45" r="2.15"/><circle cx="173.97" cy="817.03" r="2.15"/><circle cx="180.74" cy="819.57" r="2.15"/><circle cx="182.86" cy="819.15" r="2.15"/><circle cx="185.82" cy="818.72" r="2.15"/><circle cx="187.94" cy="819.15" r="2.15"/><circle cx="190.06" cy="819.57" r="2.15"/><circle cx="192.17" cy="819.57" r="2.15"/><circle cx="194.29" cy="819.99" r="2.15"/><circle cx="196.41" cy="819.57" r="2.15"/><circle cx="198.53" cy="819.99" r="2.15"/><circle cx="200.64" cy="819.57" r="2.15"/><circle cx="202.76" cy="819.99" r="2.15"/><circle cx="204.88" cy="819.99" r="2.15"/><circle cx="206.99" cy="820.42" r="2.15"/><circle cx="213.56" cy="820.21" r="2.15"/></g>
<g fill="#ff00ff"><circle cx="115.53" cy="809.83" r="2.15"/><circle cx="154.49" cy="814.07" r="2.15"/><circle cx="157.03" cy="812.79" r="2.15"/><circle cx="164.23" cy="813.64" r="2.15"/><circle cx="166.34" cy="812.79" r="2.15"/><circle cx="168.46" cy="812.79" r="2.15"/><circle cx="170.58" cy="812.79" r="2.15"/><circle cx="172.7" cy="812.79" r="2.15"/><circle cx="174.81" cy="813.22" r="2.15"/><circle cx="176.93" cy="813.64" r="2.15"/><circle cx="179.05" cy="814.07" r="2.15"/><circle cx="181.17" cy="814.49" r="2.15"/><circle cx="182.44" cy="815.76" r="2.15"/><circle cx="176.08" cy="815.34" r="2.15"/><circle cx="173.54" cy="814.91" r="2.15"/></g>
<rect x="77.4" y="713.7" width="158.35" height="23.5" fill="none" stroke="#000" stroke-width="1.15"/>
<rect x="77.4" y="737.2" width="158.35" height="94.8" fill="none" stroke="#000" stroke-width="1.15"/>
<text transform="translate(156.27 732.75) scale(1 0.985)" font-size="19.45" text-anchor="middle">TYR_INSR</text>
</g>
<g>
<rect x="235.75" y="713.7" width="158.35" height="23.5" fill="#ffe5cc"/>
<path d="M254.25 737.2V832M277.07 737.2V832M299.89 737.2V832M322.71 737.2V832M345.53 737.2V832M368.35 737.2V832M391.17 737.2V832M235.75 820.5H394.1M235.75 803.84H394.1M235.75 787.18H394.1M235.75 770.52H394.1M235.75 753.86H394.1" stroke="#e5e5e5" stroke-width="1" fill="none"/>
<g fill="#0000ff"><circle cx="329.58" cy="809.83" r="2.15"/><circle cx="331.7" cy="808.98" r="2.15"/><circle cx="333.81" cy="810.25" r="2.15"/><circle cx="335.93" cy="809.83" r="2.15"/><circle cx="332.54" cy="811.95" r="2.15"/><circle cx="334.66" cy="811.52" r="2.15"/><circle cx="336.78" cy="811.1" r="2.15"/><circle cx="338.89" cy="811.52" r="2.15"/><circle cx="341.01" cy="810.68" r="2.15"/><circle cx="337.62" cy="812.79" r="2.15"/><circle cx="339.74" cy="813.22" r="2.15"/><circle cx="341.86" cy="812.79" r="2.15"/><circle cx="343.55" cy="811.95" r="2.15"/><circle cx="350.33" cy="812.16" r="2.15"/></g>
<g fill="#ff00ff"><circle cx="268.18" cy="753.73" r="2.15"/><circle cx="299.94" cy="805.17" r="2.15"/><circle cx="305.02" cy="808.98" r="2.15"/><circle cx="310.1" cy="800.09" r="2.15"/><circle cx="313.7" cy="800.94" r="2.15"/><circle cx="309.25" cy="806.87" r="2.15"/><circle cx="311.37" cy="805.17" r="2.15"/><circle cx="312.64" cy="807.71" r="2.15"/><circle cx="310.52" cy="809.41" r="2.15"/><circle cx="313.49" cy="810.25" r="2.15"/><circle cx="315.61" cy="808.56" r="2.15"/><circle cx="317.72" cy="809.83" r="2.15"/><circle cx="316.45" cy="811.95" r="2.15"/><circle cx="309.25" cy="813.64" r="2.15"/><circle cx="318.99" cy="811.1" r="2.15"/><circle cx="321.11" cy="808.14" r="2.15"/><circle cx="320.26" cy="811.95" r="2.15"/><circle cx="314.34" cy="806.44" r="2.15"/><circle cx="307.98" cy="808.14" r="2.15"/></g>
<g fill="#00ff00"><circle cx="297.61" cy="805.6" r="2.15"/></g>
<rect x="235.75" y="713.7" width="158.35" height="23.5" fill="none" stroke="#000" stroke-width="1.15"/>
<rect x="235.75" y="737.2" width="158.35" height="94.8" fill="none" stroke="#000" stroke-width="1.15"/>
<text transform="translate(314.62 732.75) scale(1 0.985)" font-size="19.45" text-anchor="middle">TYR_SYK</text>
</g>
<path d="M95.9 122.2v-9.4M118.72 122.2v-9.4M141.54 122.2v-9.4M164.36 122.2v-9.4M187.18 122.2v-9.4M210 122.2v-9.4M232.82 122.2v-9.4M254.25 122.2v-9.4M277.07 122.2v-9.4M299.89 122.2v-9.4M322.71 122.2v-9.4M345.53 122.2v-9.4M368.35 122.2v-9.4M391.17 122.2v-9.4M412.6 122.2v-9.4M435.42 122.2v-9.4M458.24 122.2v-9.4M481.06 122.2v-9.4M503.88 122.2v-9.4M526.7 122.2v-9.4M549.52 122.2v-9.4M570.95 122.2v-9.4M593.77 122.2v-9.4M616.59 122.2v-9.4M639.41 122.2v-9.4M662.23 122.2v-9.4M685.05 122.2v-9.4M707.87 122.2v-9.4M95.9 832v9.7M118.72 832v9.7M141.54 832v9.7M164.36 832v9.7M187.18 832v9.7M210 832v9.7M232.82 832v9.7M254.25 832v9.7M277.07 832v9.7M299.89 832v9.7M322.71 832v9.7M345.53 832v9.7M368.35 832v9.7M391.17 832v9.7M77.4 229h-9.4M710.8 229h9.4M77.4 212.34h-9.4M710.8 212.34h9.4M77.4 195.68h-9.4M710.8 195.68h9.4M77.4 179.02h-9.4M710.8 179.02h9.4M77.4 162.36h-9.4M710.8 162.36h9.4M77.4 145.7h-9.4M710.8 145.7h9.4M77.4 347.3h-9.4M710.8 347.3h9.4M77.4 330.64h-9.4M710.8 330.64h9.4M77.4 313.98h-9.4M710.8 313.98h9.4M77.4 297.32h-9.4M710.8 297.32h9.4M77.4 280.66h-9.4M710.8 280.66h9.4M77.4 264h-9.4M710.8 264h9.4M77.4 465.6h-9.4M710.8 465.6h9.4M77.4 448.94h-9.4M710.8 448.94h9.4M77.4 432.28h-9.4M710.8 432.28h9.4M77.4 415.62h-9.4M710.8 415.62h9.4M77.4 398.96h-9.4M710.8 398.96h9.4M77.4 382.3h-9.4M710.8 382.3h9.4M77.4 583.9h-9.4M710.8 583.9h9.4M77.4 567.24h-9.4M710.8 567.24h9.4M77.4 550.58h-9.4M710.8 550.58h9.4M77.4 533.92h-9.4M710.8 533.92h9.4M77.4 517.26h-9.4M710.8 517.26h9.4M77.4 500.6h-9.4M710.8 500.6h9.4M77.4 702.2h-9.4M710.8 702.2h9.4M77.4 685.54h-9.4M710.8 685.54h9.4M77.4 668.88h-9.4M710.8 668.88h9.4M77.4 652.22h-9.4M710.8 652.22h9.4M77.4 635.56h-9.4M710.8 635.56h9.4M77.4 618.9h-9.4M710.8 618.9h9.4M77.4 820.5h-9.4M394.1 820.5h9.4M77.4 803.84h-9.4M394.1 803.84h9.4M77.4 787.18h-9.4M394.1 787.18h9.4M77.4 770.52h-9.4M394.1 770.52h9.4M77.4 753.86h-9.4M394.1 753.86h9.4M77.4 737.2h-9.4M394.1 737.2h9.4" stroke="#000" stroke-width="1.15" fill="none"/>
<text transform="translate(254.25 103.5) scale(1 0.95)" font-size="15.4" text-anchor="middle">40</text>
<text transform="translate(277.07 103.5) scale(1 0.95)" font-size="15.4" text-anchor="middle">50</text>
<text transform="translate(299.89 103.5) scale(1 0.95)" font-size="15.4" text-anchor="middle">60</text>
<text transform="translate(322.71 103.5) scale(1 0.95)" font-size="15.4" text-anchor="middle">70</text>
<text transform="translate(345.53 103.5) scale(1 0.95)" font-size="15.4" text-anchor="middle">80</text>
<text transform="translate(368.35 103.5) scale(1 0.95)" font-size="15.4" text-anchor="middle">90</text>
<text transform="translate(570.95 103.5) scale(1 0.95)" font-size="15.4" text-anchor="middle">40</text>
<text transform="translate(593.77 103.5) scale(1 0.95)" font-size="15.4" text-anchor="middle">50</text>
<text transform="translate(616.59 103.5) scale(1 0.95)" font-size="15.4" text-anchor="middle">60</text>
<text transform="translate(639.41 103.5) scale(1 0.95)" font-size="15.4" text-anchor="middle">70</text>
<text transform="translate(662.23 103.5) scale(1 0.95)" font-size="15.4" text-anchor="middle">80</text>
<text transform="translate(685.05 103.5) scale(1 0.95)" font-size="15.4" text-anchor="middle">90</text>
<text transform="translate(95.9 861.3) scale(1 0.95)" font-size="15.4" text-anchor="middle">40</text>
<text transform="translate(118.72 861.3) scale(1 0.95)" font-size="15.4" text-anchor="middle">50</text>
<text transform="translate(141.54 861.3) scale(1 0.95)" font-size="15.4" text-anchor="middle">60</text>
<text transform="translate(164.36 861.3) scale(1 0.95)" font-size="15.4" text-anchor="middle">70</text>
<text transform="translate(187.18 861.3) scale(1 0.95)" font-size="15.4" text-anchor="middle">80</text>
<text transform="translate(210 861.3) scale(1 0.95)" font-size="15.4" text-anchor="middle">90</text>
<text transform="translate(58.4 234.3) scale(1 0.95)" font-size="15.4" text-anchor="end">0.5</text>
<text transform="translate(58.4 217.64) scale(1 0.95)" font-size="15.4" text-anchor="end">1.0</text>
<text transform="translate(58.4 200.98) scale(1 0.95)" font-size="15.4" text-anchor="end">1.5</text>
<text transform="translate(58.4 184.32) scale(1 0.95)" font-size="15.4" text-anchor="end">2.0</text>
<text transform="translate(58.4 167.66) scale(1 0.95)" font-size="15.4" text-anchor="end">2.5</text>
<text transform="translate(58.4 470.9) scale(1 0.95)" font-size="15.4" text-anchor="end">0.5</text>
<text transform="translate(58.4 454.24) scale(1 0.95)" font-size="15.4" text-anchor="end">1.0</text>
<text transform="translate(58.4 437.58) scale(1 0.95)" font-size="15.4" text-anchor="end">1.5</text>
<text transform="translate(58.4 420.92) scale(1 0.95)" font-size="15.4" text-anchor="end">2.0</text>
<text transform="translate(58.4 404.26) scale(1 0.95)" font-size="15.4" text-anchor="end">2.5</text>
<text transform="translate(58.4 707.5) scale(1 0.95)" font-size="15.4" text-anchor="end">0.5</text>
<text transform="translate(58.4 690.84) scale(1 0.95)" font-size="15.4" text-anchor="end">1.0</text>
<text transform="translate(58.4 674.18) scale(1 0.95)" font-size="15.4" text-anchor="end">1.5</text>
<text transform="translate(58.4 657.52) scale(1 0.95)" font-size="15.4" text-anchor="end">2.0</text>
<text transform="translate(58.4 640.86) scale(1 0.95)" font-size="15.4" text-anchor="end">2.5</text>
<text transform="translate(728.8 352.6) scale(1 0.95)" font-size="15.4">0.5</text>
<text transform="translate(728.8 335.94) scale(1 0.95)" font-size="15.4">1.0</text>
<text transform="translate(728.8 319.28) scale(1 0.95)" font-size="15.4">1.5</text>
<text transform="translate(728.8 302.62) scale(1 0.95)" font-size="15.4">2.0</text>
<text transform="translate(728.8 285.96) scale(1 0.95)" font-size="15.4">2.5</text>
<text transform="translate(728.8 589.2) scale(1 0.95)" font-size="15.4">0.5</text>
<text transform="translate(728.8 572.54) scale(1 0.95)" font-size="15.4">1.0</text>
<text transform="translate(728.8 555.88) scale(1 0.95)" font-size="15.4">1.5</text>
<text transform="translate(728.8 539.22) scale(1 0.95)" font-size="15.4">2.0</text>
<text transform="translate(728.8 522.56) scale(1 0.95)" font-size="15.4">2.5</text>
<text transform="translate(412.1 825.8) scale(1 0.95)" font-size="15.4">0.5</text>
<text transform="translate(412.1 809.14) scale(1 0.95)" font-size="15.4">1.0</text>
<text transform="translate(412.1 792.48) scale(1 0.95)" font-size="15.4">1.5</text>
<text transform="translate(412.1 775.82) scale(1 0.95)" font-size="15.4">2.0</text>
<text transform="translate(412.1 759.16) scale(1 0.95)" font-size="15.4">2.5</text>
<text transform="translate(393.9 894.3) scale(1 0.96)" font-size="19.57" text-anchor="middle">Mininum value of pLDDT for activation loop residues</text>
<text transform="translate(18.6 488.4) rotate(-90) scale(1 0.96)" font-size="19.68" text-anchor="middle">RMSD of activation loop (Å)</text>
<text transform="translate(330.6 14.9) scale(1 0.96)" font-size="19.25" style="fill:#0000ff;stroke:#0000ff">ActiveAF2</text>
<circle cx="452.9" cy="8.4" r="4.5" fill="#0000ff"/>
<text transform="translate(330.6 33.75) scale(1 0.96)" font-size="19.25" style="fill:#ff00ff;stroke:#ff00ff">ActivePDB</text>
<circle cx="452.9" cy="27.0" r="4.5" fill="#ff00ff"/>
<text transform="translate(330.6 52.6) scale(1 0.96)" font-size="19.25" style="fill:#ff8000;stroke:#ff8000">notemplate</text>
<circle cx="452.9" cy="45.6" r="4.5" fill="#ff8000"/>
<text transform="translate(330.6 71.4) scale(1 0.96)" font-size="19.25" style="fill:#00ff00;stroke:#00ff00">pdb70</text>
<circle cx="452.9" cy="64.3" r="4.5" fill="#00ff00"/>
</svg></body></html>
